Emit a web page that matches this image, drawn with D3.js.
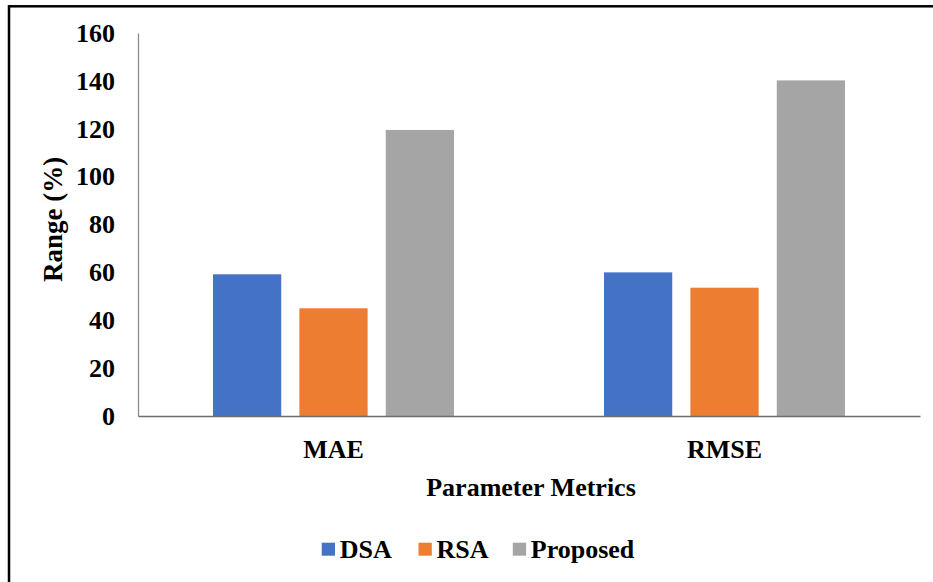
<!DOCTYPE html>
<html>
<head>
<meta charset="utf-8">
<script src="https://cdn.jsdelivr.net/npm/d3@7"></script>
<style>
  html, body { margin: 0; padding: 0; background: #fff; }
  svg { display: block; }
  svg text { font-family: "Liberation Serif", "Times New Roman", serif; font-weight: bold; fill: #000; }
</style>
</head>
<body>
<svg id="chart" width="933" height="582"></svg>
<script>
// Metric categories and series values (%)
const categories = ["MAE", "RMSE"];
const seriesNames = ["DSA", "RSA", "Proposed"];
const dsaValues = [59.2, 60.0];
const rsaValues = [45.0, 53.6];
const proposedValues = [119.5, 140.2];
const yTicks = [0, 20, 40, 60, 80, 100, 120, 140, 160];
const colors = ["#4472C4", "#ED7D31", "#A5A5A5"];
const serif = "'Liberation Serif', 'Times New Roman', serif";

const seriesValues = [dsaValues, rsaValues, proposedValues];
const rows = categories.map((c, i) => ({
  category: c,
  values: seriesNames.map((s, j) => ({ series: s, value: seriesValues[j][i], color: colors[j] }))
}));

const svg = d3.select("#chart");

// Outer frame
svg.append("rect")
  .attr("x", 9).attr("y", 6.3)
  .attr("width", 960).attr("height", 620)
  .attr("fill", "none").attr("stroke", "#000").attr("stroke-width", 2.5);

const plot = { left: 138, right: 920, top: 33, bottom: 416 };

const y = d3.scaleLinear().domain([0, 160]).range([plot.bottom, plot.top]);
const x0 = d3.scaleBand().domain(categories).range([plot.left, plot.right]).padding(0);
const groupWidth = 241;
const x1 = d3.scaleBand().domain(seriesNames)
  .range([-groupWidth / 2, groupWidth / 2])
  .paddingInner(0.21).paddingOuter(0);

// Bars
const groups = svg.append("g").selectAll("g")
  .data(rows).join("g")
  .attr("transform", d => `translate(${x0(d.category) + x0.bandwidth() / 2},0)`);

groups.selectAll("rect")
  .data(d => d.values).join("rect")
  .attr("x", d => x1(d.series))
  .attr("width", x1.bandwidth())
  .attr("y", d => y(d.value))
  .attr("height", d => y(0) - y(d.value))
  .attr("fill", d => d.color);

// Y axis
const yAxis = svg.append("g")
  .attr("transform", `translate(${plot.left},0)`)
  .call(d3.axisLeft(y).tickValues(yTicks).tickSize(0).tickPadding(23))
  .attr("font-family", serif).attr("font-size", 26);
yAxis.select(".domain").attr("stroke", "#8c8c8c").attr("stroke-width", 1.3);
yAxis.selectAll("text").attr("font-weight", "bold").attr("fill", "#000");

// X axis
const xAxis = svg.append("g")
  .attr("transform", `translate(0,${plot.bottom})`)
  .call(d3.axisBottom(x0).tickSize(0).tickPadding(24))
  .attr("font-family", serif).attr("font-size", 26);
xAxis.select(".domain").attr("stroke", "#6e6e6e").attr("stroke-width", 1.5);
xAxis.selectAll("text").attr("font-weight", "bold").attr("fill", "#000");

// Axis titles
svg.append("text")
  .attr("x", 531).attr("y", 496)
  .attr("text-anchor", "middle")
  .attr("font-size", 26)
  .text("Parameter Metrics");

svg.append("text")
  .attr("transform", "translate(62,219.5) rotate(-90)")
  .attr("text-anchor", "middle")
  .attr("font-size", 27)
  .text("Range (%)");

// Legend
const legendItems = [
  { name: "DSA", color: colors[0], x: 321.7 },
  { name: "RSA", color: colors[1], x: 418.5 },
  { name: "Proposed", color: colors[2], x: 512.8 }
];
const legend = svg.append("g").selectAll("g")
  .data(legendItems).join("g")
  .attr("transform", d => `translate(${d.x},0)`);
legend.append("rect")
  .attr("x", 0).attr("y", 542.7)
  .attr("width", 13.3).attr("height", 13)
  .attr("fill", d => d.color);
legend.append("text")
  .attr("x", 18).attr("y", 558)
  .attr("font-size", 26)
  .text(d => d.name);
</script>
</body>
</html>
